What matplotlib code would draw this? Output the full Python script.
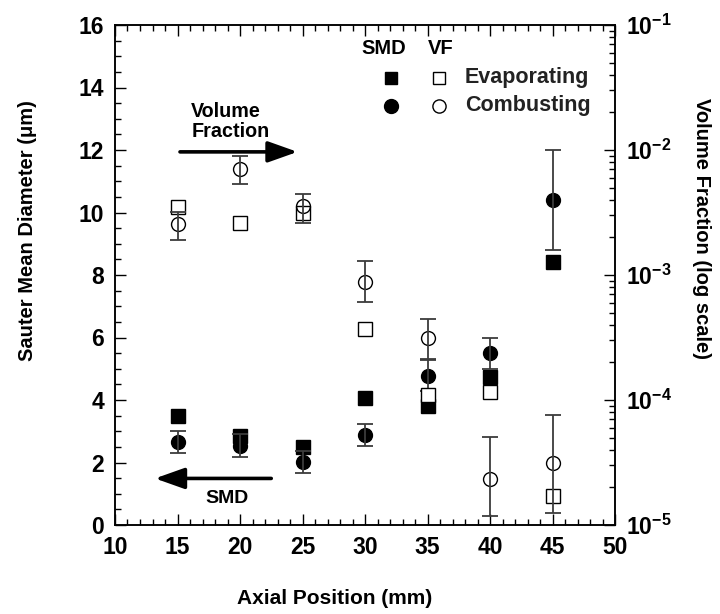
import matplotlib
matplotlib.use("Agg")
import matplotlib.pyplot as plt
from matplotlib.ticker import MultipleLocator, FixedLocator, FuncFormatter, LogLocator, NullFormatter
import numpy as np

plt.rcParams['font.family'] = ['Liberation Sans', 'DejaVu Sans']
plt.rcParams['font.weight'] = 'bold'
plt.rcParams['mathtext.fontset'] = 'custom'
plt.rcParams['mathtext.rm'] = 'Liberation Sans:bold'
plt.rcParams['mathtext.bf'] = 'Liberation Sans:bold'
plt.rcParams['mathtext.it'] = 'Liberation Sans:bold'

# ---- data ----
axial = [15, 20, 25, 30, 35, 40, 45]
smd_evap = [3.5, 2.85, 2.5, 4.08, 3.8, 4.73, 8.43]
smd_comb = [2.65, 2.54, 2.03, 2.88, 4.78, 5.49, 10.4]
smd_comb_err = [0.36, 0.37, 0.35, 0.36, 0.5, 0.5, 1.6]
vf_evap = [3.5e-3, 2.6e-3, 3.15e-3, 3.7e-4, 1.1e-4, 1.15e-4, 1.72e-5]
vf_comb = [2.54e-3, 7.1e-3, 3.56e-3, 8.8e-4, 3.12e-4, 2.32e-5, 3.15e-5]
vf_comb_lo = [1.9e-3, 5.35e-3, 2.62e-3, 6.1e-4, 2.12e-4, 1.17e-5, 1.24e-5]
vf_comb_hi = [3.17e-3, 9.0e-3, 4.45e-3, 1.29e-3, 4.45e-4, 5.03e-5, 7.6e-5]

x_ticks = [10, 15, 20, 25, 30, 35, 40, 45, 50]
y_ticks = [0, 2, 4, 6, 8, 10, 12, 14, 16]

fig = plt.figure(figsize=(7.2, 6.14), dpi=100)
ax = fig.add_axes([115/720, 89/614, 500/720, 500/614])
ax2 = ax.twinx()

ecol = '#3c3c3c'
ms = 10

# SMD (left axis)
ax.plot(axial, smd_evap, ls='none', marker='s', ms=ms, mfc='k', mec='k', zorder=3)
ax.plot(axial, smd_comb, ls='none', marker='o', ms=ms, mfc='k', mec='k', zorder=3)
ax.errorbar(axial, smd_comb, yerr=smd_comb_err, fmt='none', ecolor=ecol,
            elinewidth=1.3, capsize=5.5, capthick=1.3, zorder=4)

# VF (right axis)
ax2.plot(axial, vf_evap, ls='none', marker='s', ms=ms, mfc='white', mec='k', mew=1.0, zorder=3)
ax2.plot(axial, vf_comb, ls='none', marker='o', ms=ms, mfc='none', mec='k', mew=1.0, zorder=4)
vlo = np.array(vf_comb) - np.array(vf_comb_lo)
vhi = np.array(vf_comb_hi) - np.array(vf_comb)
ax2.errorbar(axial, vf_comb, yerr=[vlo, vhi], fmt='none', ecolor=ecol,
             elinewidth=1.3, capsize=5.5, capthick=1.3, zorder=5)

ax.set_xlim(10, 50)
ax.set_ylim(0, 16)
ax2.set_yscale('log')
ax2.set_ylim(1e-5, 1e-1)

ax.xaxis.set_major_locator(FixedLocator(x_ticks))
ax.xaxis.set_minor_locator(MultipleLocator(1))
ax.yaxis.set_major_locator(FixedLocator(y_ticks))
ax.yaxis.set_minor_locator(MultipleLocator(0.5))
ax2.yaxis.set_major_locator(LogLocator(base=10, numticks=10))
ax2.yaxis.set_minor_locator(LogLocator(base=10, subs=np.arange(2, 10), numticks=10))
ax2.yaxis.set_minor_formatter(NullFormatter())
ax2.yaxis.set_major_formatter(FuncFormatter(lambda v, p: r'$\mathbf{10^{%d}}$' % int(round(np.log10(v)))))

ax.tick_params(axis='x', which='both', direction='in', top=True, bottom=True)
ax.tick_params(axis='y', which='both', direction='in', left=True, right=False)
ax.tick_params(which='major', length=8, width=1.0, labelsize=16.5, pad=8)
ax.tick_params(which='minor', length=4.5, width=1.0)
ax2.tick_params(which='both', direction='in')
ax2.tick_params(which='major', length=8, width=1.0, labelsize=16.5, pad=8)
ax2.tick_params(which='minor', length=4.5, width=1.0)

for sp in ax.spines.values():
    sp.set_linewidth(1.1)
for sp in ax2.spines.values():
    sp.set_linewidth(1.1)

for lab in ax.get_xticklabels() + ax.get_yticklabels():
    lab.set_fontweight('bold')

ax.set_xlabel('Axial Position (mm)', fontsize=15, fontweight='bold')
ax.set_ylabel('Sauter Mean Diameter (\u03bcm)', fontsize=14.5, fontweight='bold')
ax2.set_ylabel('Volume Fraction (log scale)', fontsize=14.5, fontweight='bold', rotation=270)
ax.xaxis.set_label_coords(0.44, -0.146)
ax.yaxis.set_label_coords(-0.175, 0.588)
ax2.yaxis.set_label_coords(1.173, 0.594)
for lbl in (ax.xaxis.label, ax.yaxis.label, ax2.yaxis.label):
    lbl.set_horizontalalignment('center')
    lbl.set_verticalalignment('center')

# annotations (arrows)
ax.annotate('', xy=(24.6, 11.94), xytext=(15.2, 11.94),
            arrowprops=dict(arrowstyle='-|>,head_length=0.9,head_width=0.32',
                            lw=2.6, color='k', mutation_scale=20, shrinkA=0, shrinkB=0),
            zorder=6)
ax.text(16.1, 12.92, 'Volume\nFraction', fontsize=14.2, fontweight='bold',
        ha='left', va='center', linespacing=1.05)
ax.annotate('', xy=(13.2, 1.49), xytext=(22.5, 1.49),
            arrowprops=dict(arrowstyle='-|>,head_length=0.9,head_width=0.32',
                            lw=2.6, color='k', mutation_scale=20, shrinkA=0, shrinkB=0),
            zorder=6)
ax.text(18.96, 0.85, 'SMD', fontsize=14, fontweight='bold', ha='center', va='center')

# legend drawn manually
T = ax.transAxes
ax.text(0.538, 0.952, 'SMD', transform=T, fontsize=14.5, fontweight='bold', ha='center', va='center')
ax.text(0.652, 0.952, 'VF', transform=T, fontsize=14.5, fontweight='bold', ha='center', va='center')
ax.plot([0.551], [0.8946], transform=T, marker='s', ms=8.5, mfc='k', mec='k', ls='none', clip_on=False)
ax.plot([0.6486], [0.8946], transform=T, marker='s', ms=8.5, mfc='white', mec='k', mew=1.0, ls='none', clip_on=False)
ax.plot([0.551], [0.838], transform=T, marker='o', ms=10, mfc='k', mec='k', ls='none', clip_on=False)
ax.plot([0.6486], [0.838], transform=T, marker='o', ms=9.5, mfc='white', mec='k', mew=1.0, ls='none', clip_on=False)
ax.text(0.70, 0.8946, 'Evaporating', transform=T, fontsize=15.5, fontweight='bold', ha='left', va='center', color='#222222')
ax.text(0.70, 0.838, 'Combusting', transform=T, fontsize=15.5, fontweight='bold', ha='left', va='center', color='#222222')

fig.savefig('out.png', dpi=100)
